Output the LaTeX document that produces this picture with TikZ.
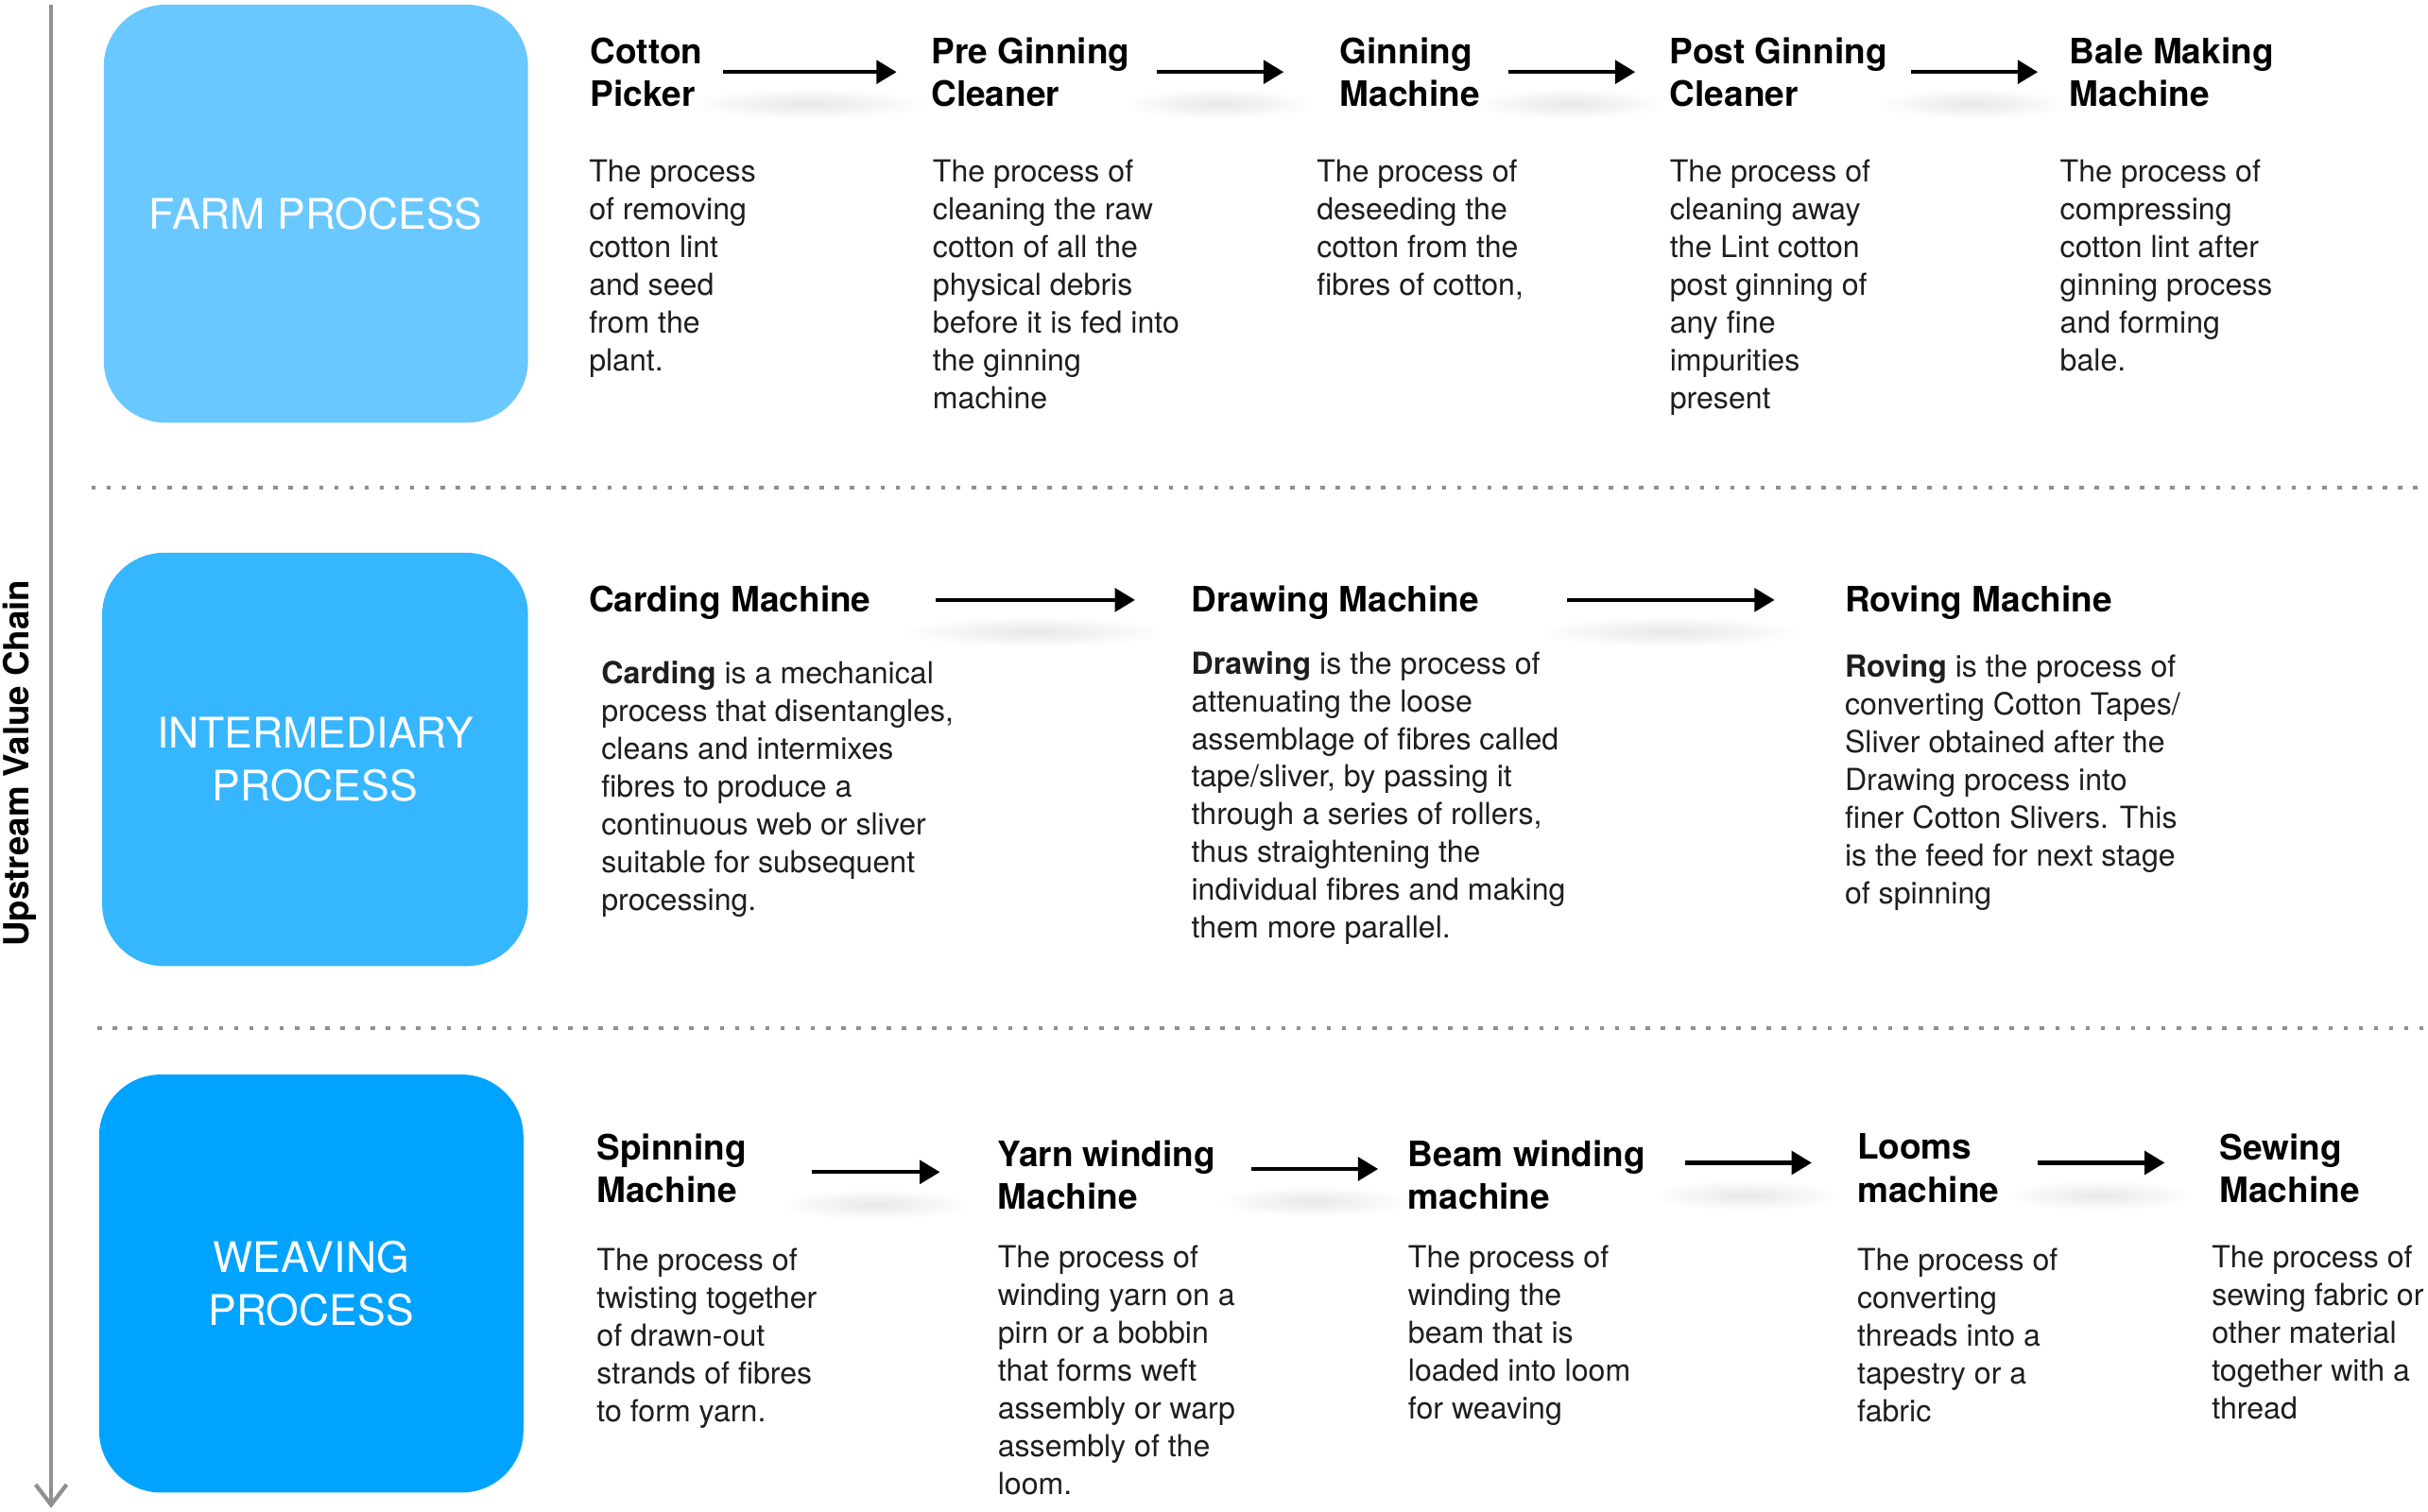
\documentclass[tikz,border=0pt]{standalone}
\usepackage{fontspec}
\setmainfont{TeX Gyre Heros}
\usetikzlibrary{arrows.meta}
\definecolor{farmblue}{HTML}{69C8FF}
\definecolor{interblue}{HTML}{36B6FE}
\definecolor{weaveblue}{HTML}{00A3FF}
\definecolor{axisgray}{HTML}{909090}
\definecolor{bodygray}{HTML}{1E1E1E}
\newcommand\hdfnt{\fontsize{11.3}{13.75}\selectfont\bfseries}
\newcommand\bdfnt{\fontsize{9.8}{12.2}\selectfont}
\newcommand\bxfnt{\fontsize{13.6}{17}\selectfont}
\tikzset{
  head/.style={anchor=north west, inner sep=0pt, align=left, font=\hdfnt, text=black},
  bodytxt/.style={anchor=north west, inner sep=0pt, align=left, font=\bdfnt, text=bodygray},
  stagebox/.style={rounded corners=20pt, inner sep=0pt, text=white, font=\bxfnt, align=center,
    minimum width=137pt, minimum height=135pt},
  flow/.style={-{Triangle[length=6.5pt,width=7.5pt]}, line width=1.25pt, black},
  sepline/.style={axisgray, line width=1.4pt, dash pattern=on 1.4pt off 3.5pt},
  blob/.style={inner color=black!9, outer color=white}
}
\begin{document}
\begin{tikzpicture}[x=0.5pt,y=-0.5pt]
\useasboundingbox (0,0) rectangle (1568,976);

% arrow shadows
\foreach \cx/\cy/\rx in {522/67/34, 787/67/26, 1014/67/26, 1274/67/26,
                          668/408/38, 1078/408/38,
                          565/778/26, 848/776/26, 1128/772/26, 1356/772/26}
  \shade[blob] (\cx,\cy) ellipse [x radius=\rx pt+5pt, y radius=5pt];

% vertical axis
\coordinate (vtop) at (33,3);
\coordinate (vbot) at (33,974);
\draw[axisgray, line width=1.3pt, -{Straight Barb[length=6.5pt,width=10pt,line width=1.3pt]}] (vtop) -- (vbot);
\node[rotate=90, font=\fontsize{11.2}{13}\selectfont\bfseries, inner sep=0pt] (axislbl) at (13,493) {Upstream Value Chain};

% separators
\coordinate (d1s) at (59,315);
\coordinate (d1e) at (1568,315);
\coordinate (d2s) at (63,664);
\coordinate (d2e) at (1568,664);
\draw[sepline] (d1s) -- (d1e);
\draw[sepline] (d2s) -- (d2e);

% stage boxes
\node[stagebox, fill=farmblue] (farm) at (204,138) {FARM PROCESS};
\node[stagebox, fill=interblue, minimum height=133.5pt, minimum width=137.5pt] (inter) at (203.5,490.5) {INTERMEDIARY\\PROCESS};
\node[stagebox, fill=weaveblue] (weave) at (201,829) {WEAVING\\PROCESS};

% ---------- Row 1: farm ----------
\node[head] (h11) at (381,23.8) {Cotton\\Picker};
\node[head] (h12) at (601,23.8) {Pre Ginning\\Cleaner};
\node[head] (h13) at (865,23.8) {Ginning\\Machine};
\node[head] (h14) at (1078,23.8) {Post Ginning\\Cleaner};
\node[head] (h15) at (1336,23.8) {Bale Making\\Machine};

\node[bodytxt] (b11) at (380,102.6) {The process\\of removing\\cotton lint\\and seed\\from the\\plant.};
\node[bodytxt] (b12) at (602,102.6) {The process of\\cleaning the raw\\cotton of all the\\physical debris\\before it is fed into\\the ginning\\machine};
\node[bodytxt] (b13) at (850,102.6) {The process of\\deseeding the\\cotton from the\\fibres of cotton,};
\node[bodytxt] (b14) at (1078,102.6) {The process of\\cleaning away\\the Lint cotton\\post ginning of\\any fine\\impurities\\present};
\node[bodytxt] (b15) at (1330,102.6) {The process of\\compressing\\cotton lint after\\ginning process\\and forming\\bale.};

\coordinate (a11s) at (467,46.5); \coordinate (a11e) at (579,46.5);
\coordinate (a12s) at (747,46.5); \coordinate (a12e) at (829,46.5);
\coordinate (a13s) at (974,46.5); \coordinate (a13e) at (1056,46.5);
\coordinate (a14s) at (1234,46.5); \coordinate (a14e) at (1316,46.5);
\draw[flow] (a11s) -- (a11e);
\draw[flow] (a12s) -- (a12e);
\draw[flow] (a13s) -- (a13e);
\draw[flow] (a14s) -- (a14e);

% ---------- Row 2: intermediary ----------
\node[head] (h21) at (380,378.2) {Carding Machine};
\node[head] (h22) at (769,378.2) {Drawing Machine};
\node[head] (h23) at (1191,378.2) {Roving Machine};

\node[bodytxt] (b21) at (388,426.8) {\textbf{Carding} is a mechanical\\process that disentangles,\\cleans and intermixes\\fibres to produce a\\continuous web or sliver\\suitable for subsequent\\processing.};
\node[bodytxt] (b22) at (769,420.2) {\textbf{Drawing} is the process of\\attenuating the loose\\assemblage of fibres called\\tape/sliver, by passing it\\through a series of rollers,\\thus straightening the\\individual fibres and making\\them more parallel.};
\node[bodytxt] (b23) at (1191,422.2) {\textbf{Roving} is the process of\\converting Cotton Tapes/\\Sliver obtained after the\\Drawing process into\\finer Cotton Slivers. This\\is the feed for next stage\\of spinning};

\coordinate (a21s) at (604,387.5); \coordinate (a21e) at (733,387.5);
\coordinate (a22s) at (1012,387.5); \coordinate (a22e) at (1146,387.5);
\draw[flow] (a21s) -- (a21e);
\draw[flow] (a22s) -- (a22e);

% ---------- Row 3: weaving ----------
\node[head] (h31) at (385,732) {Spinning\\Machine};
\node[head] (h32) at (644,736) {Yarn winding\\Machine};
\node[head] (h33) at (909,736) {Beam winding\\machine};
\node[head] (h34) at (1199,732) {Looms\\machine};
\node[head] (h35) at (1433,732) {Sewing\\Machine};

\node[bodytxt] (b31) at (385,806) {The process of\\twisting together\\of drawn-out\\strands of fibres\\to form yarn.};
\node[bodytxt] (b32) at (644,804) {The process of\\winding yarn on a\\pirn or a bobbin\\that forms weft\\assembly or warp\\assembly of the\\loom.};
\node[bodytxt] (b33) at (909,804) {The process of\\winding the\\beam that is\\loaded into loom\\for weaving};
\node[bodytxt] (b34) at (1199,806) {The process of\\converting\\threads into a\\tapestry or a\\fabric};
\node[bodytxt] (b35) at (1428,804) {The process of\\sewing fabric or\\other material\\together with a\\thread};

\coordinate (a31s) at (524,757); \coordinate (a31e) at (607,757);
\coordinate (a32s) at (808,755); \coordinate (a32e) at (890,755);
\coordinate (a33s) at (1088,751); \coordinate (a33e) at (1170,751);
\coordinate (a34s) at (1316,751); \coordinate (a34e) at (1398,751);
\draw[flow] (a31s) -- (a31e);
\draw[flow] (a32s) -- (a32e);
\draw[flow] (a33s) -- (a33e);
\draw[flow] (a34s) -- (a34e);
\end{tikzpicture}
\end{document}
